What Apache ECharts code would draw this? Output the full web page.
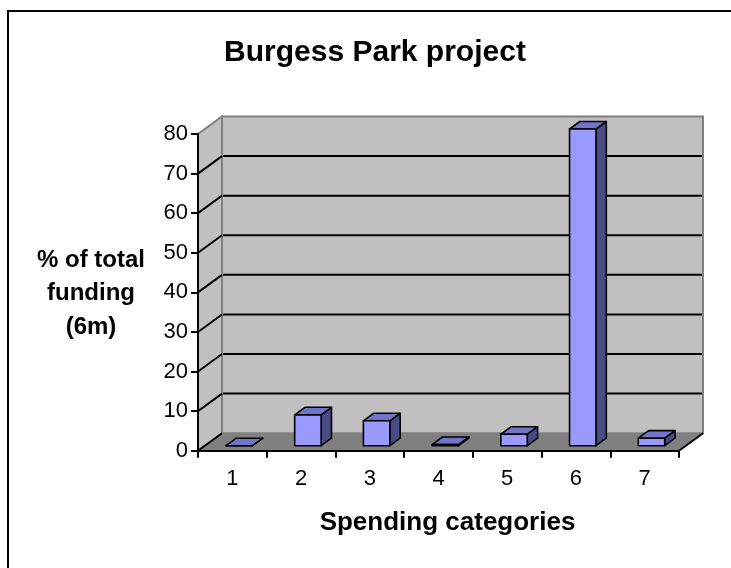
<!DOCTYPE html>
<html>
<head>
<meta charset="utf-8">
<script src="https://cdn.jsdelivr.net/npm/echarts@6/dist/echarts.min.js"></script>
<style>
html,body{margin:0;padding:0;background:#fff;}
#chart{width:731px;height:568px;}
</style>
</head>
<body>
<div id="chart"></div>
<script>
// ---- data ----
const categories = ['1', '2', '3', '4', '5', '6', '7'];
const fundingShare = [0, 7.8, 6.3, 0.3, 2.9, 80, 1.9];
const yTicks = [0, 10, 20, 30, 40, 50, 60, 70, 80];
const titleText = 'Burgess Park project';
const yName = '% of total\nfunding\n(6m)';
const xName = 'Spending categories';

// ---- 3D look (style) ----
const DEPTH_X = 24, DEPTH_Y = -17.5;   // back-wall offset
const F1 = 0.285, F2 = 0.715;          // bar depth range
const BAR_W = 0.385;                   // bar width as share of band
const FONT = 'Liberation Sans, Arial, sans-serif';

const chart = echarts.init(document.getElementById('chart'), null, {renderer: 'canvas'});

function renderWalls(params, api) {
  const cs = params.coordSys;
  const x0 = cs.x, y0 = cs.y, x1 = cs.x + cs.width, y1 = cs.y + cs.height;
  const dx = DEPTH_X, dy = DEPTH_Y;
  return {
    type: 'group',
    children: [
      { type: 'polygon', shape: {points: [[x0+dx, y0+dy], [x1+dx, y0+dy], [x1+dx, y1+dy], [x0+dx, y1+dy]]},
        style: {fill: '#C0C0C0', stroke: '#808080', lineWidth: 2} },
      { type: 'polygon', shape: {points: [[x0, y0], [x0+dx, y0+dy], [x0+dx, y1+dy], [x0, y1]]},
        style: {fill: '#C0C0C0', stroke: '#808080', lineWidth: 2} },
      { type: 'polygon', shape: {points: [[x0, y1], [x1, y1], [x1+dx, y1+dy], [x0+dx, y1+dy]]},
        style: {fill: '#808080', stroke: null} },
      { type: 'line', shape: {x1: x1, y1: y1, x2: x1+dx, y2: y1+dy},
        style: {stroke: '#000', lineWidth: 2} },
      { type: 'line', shape: {x1: x0, y1: y1, x2: x0+dx, y2: y1+dy},
        style: {stroke: '#000', lineWidth: 2} }
    ]
  };
}

function renderGrid(params, api) {
  const cs = params.coordSys;
  const v = api.value(1);
  const p = api.coord([0, v]);
  const y = p[1];
  const dx = DEPTH_X, dy = DEPTH_Y;
  if (v <= yTicks[0] || v >= yTicks[yTicks.length - 1]) return null;
  return {
    type: 'group',
    children: [
      { type: 'line', shape: {x1: cs.x, y1: y, x2: cs.x + dx, y2: y + dy},
        style: {stroke: '#000', lineWidth: 2} },
      { type: 'line', shape: {x1: cs.x + dx + 1, y1: y + dy, x2: cs.x + cs.width + dx - 1, y2: y + dy},
        style: {stroke: '#000', lineWidth: 2} }
    ]
  };
}

function renderBar(params, api) {
  const ci = api.value(0), v = api.value(1);
  const base = api.coord([ci, 0]);
  const top = api.coord([ci, v]);
  const band = api.size([1, 0])[0];
  const w = band * BAR_W;
  const fx = DEPTH_X * F1, fy = DEPTH_Y * F1;
  const bx = DEPTH_X * (F2 - F1), by = DEPTH_Y * (F2 - F1);
  const xL = base[0] - w / 2 + fx, xR = xL + w;
  const yT = top[1] + fy, yB = base[1] + fy;
  const st = {stroke: '#000', lineWidth: 1.6, lineJoin: 'round'};
  return {
    type: 'group',
    children: [
      { type: 'polygon', shape: {points: [[xR, yT], [xR + bx, yT + by], [xR + bx, yB + by], [xR, yB]]},
        style: Object.assign({fill: '#4B4B85'}, st) },
      { type: 'polygon', shape: {points: [[xL, yT], [xL + bx, yT + by], [xR + bx, yT + by], [xR, yT]]},
        style: Object.assign({fill: '#7373C9'}, st) },
      { type: 'rect', shape: {x: xL, y: yT, width: w, height: Math.max(yB - yT, 0)},
        style: Object.assign({fill: '#9999FF'}, st) }
    ]
  };
}

const option = {
  backgroundColor: '#ffffff',
  animation: false,
  textStyle: {fontFamily: FONT},
  grid: {left: 198, right: 52, top: 134, bottom: 117.3, containLabel: false},
  xAxis: {
    type: 'category',
    data: categories,
    z: 10,
    boundaryGap: true,
    axisLine: {show: true, lineStyle: {color: '#000', width: 2}},
    axisTick: {show: true, alignWithLabel: false, length: 7, lineStyle: {color: '#000', width: 2}},
    axisLabel: {color: '#000', fontSize: 22, fontFamily: FONT, margin: 17},
    splitLine: {show: false}
  },
  yAxis: {
    type: 'value',
    min: 0, max: 80, interval: 10,
    z: 10,
    axisLine: {show: true, lineStyle: {color: '#000', width: 2}},
    axisTick: {show: true, length: 7, lineStyle: {color: '#000', width: 2}},
    axisLabel: {color: '#000', fontSize: 22, fontFamily: FONT, margin: 10},
    splitLine: {show: false}
  },
  graphic: [
    { type: 'rect', shape: {x: 8, y: 11, width: 800, height: 700},
      style: {fill: null, stroke: '#000', lineWidth: 2}, z: 100 },
    { type: 'text', x: 375, y: 53,
      style: {text: titleText, font: 'bold 30px ' + FONT, fill: '#000', align: 'center', verticalAlign: 'middle'} },
    { type: 'text', x: 91, y: 293.5,
      style: {text: yName, font: 'bold 24px ' + FONT, fill: '#000', align: 'center', verticalAlign: 'middle', lineHeight: 33.5} },
    { type: 'text', x: 447.5, y: 523,
      style: {text: xName, font: 'bold 26px ' + FONT, fill: '#000', align: 'center', verticalAlign: 'middle'} }
  ],
  series: [
    { type: 'custom', name: 'walls', z: 1, silent: true, clip: false,
      data: [[0, 0]], renderItem: renderWalls },
    { type: 'custom', name: 'gridlines', z: 2, silent: true, clip: false,
      data: yTicks.map(function (t) { return [0, t]; }), renderItem: renderGrid },
    { type: 'custom', name: 'funding', z: 3, clip: false,
      data: fundingShare.map(function (v, i) { return [i, v]; }), renderItem: renderBar }
  ]
};
chart.setOption(option);
</script>
</body>
</html>
